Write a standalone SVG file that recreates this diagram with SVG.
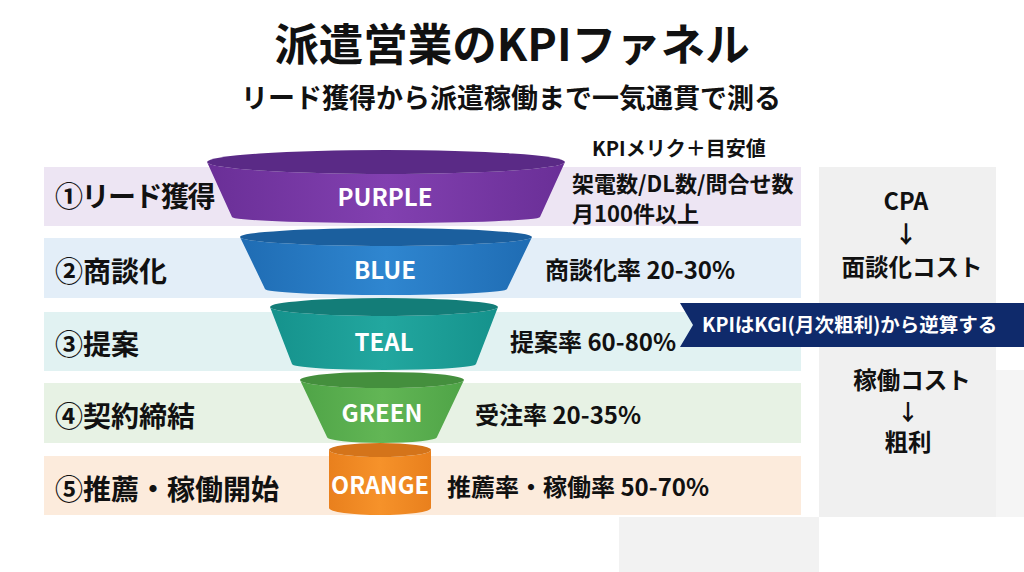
<svg xmlns="http://www.w3.org/2000/svg" width="1024" height="572" viewBox="0 0 1024 572">
<defs>
<style>
text{font-family:"Noto Sans CJK JP","Noto Sans",sans-serif;font-weight:700;}
.lbl{font-size:28px;fill:#111;}
.kpi{font-size:24px;fill:#111;}
.kpi1{font-size:22px;fill:#111;}
.seg{font-size:24px;fill:#fff;text-anchor:middle;}
.side{font-size:23.5px;fill:#111;text-anchor:middle;}
</style>
<linearGradient id="gP" x1="0" x2="1"><stop offset="0" stop-color="#6a2f97"/><stop offset="0.5" stop-color="#8240b0"/><stop offset="1" stop-color="#6a2f97"/></linearGradient>
<linearGradient id="gB" x1="0" x2="1"><stop offset="0" stop-color="#1f6cb3"/><stop offset="0.5" stop-color="#2f86d0"/><stop offset="1" stop-color="#1f6cb3"/></linearGradient>
<linearGradient id="gT" x1="0" x2="1"><stop offset="0" stop-color="#15928c"/><stop offset="0.5" stop-color="#22a79f"/><stop offset="1" stop-color="#15928c"/></linearGradient>
<linearGradient id="gG" x1="0" x2="1"><stop offset="0" stop-color="#4fa447"/><stop offset="0.5" stop-color="#62b655"/><stop offset="1" stop-color="#4fa447"/></linearGradient>
<linearGradient id="gO" x1="0" x2="1"><stop offset="0" stop-color="#e9801d"/><stop offset="0.5" stop-color="#f6922a"/><stop offset="1" stop-color="#e9801d"/></linearGradient>
</defs>
<rect width="1024" height="572" fill="#ffffff"/>
<g id="background">
<rect x="619" y="517" width="200" height="55" fill="#f2f2f2"/>
<rect x="996" y="370" width="28" height="147" fill="#f5f5f5"/>
<rect x="819" y="167" width="177" height="350" fill="#f0f0f0"/>
</g>
<g id="title">
<text x="512" y="61" font-size="44.5" text-anchor="middle" fill="#111">派遣営業のKPIファネル</text>
<text x="511" y="108" font-size="27" text-anchor="middle" fill="#111">リード獲得から派遣稼働まで一気通貫で測る</text>
</g>
<g id="bands">
<rect x="44" y="167" width="757" height="59" fill="#ede5f3"/>
<rect x="44" y="238" width="757" height="60" fill="#e3eef8"/>
<rect x="44" y="312" width="757" height="59" fill="#e1f2f2"/>
<rect x="44" y="383" width="757" height="60" fill="#e7f2e4"/>
<rect x="44" y="456" width="757" height="59" fill="#fcebdc"/>
</g>
<g id="stage1">
<text class="lbl" x="55" y="207" letter-spacing="-1.5">①リード獲得</text>
<path d="M207,162 L232,217 A154,6 0 0 0 540,217 L565,162 A179,12 0 0 1 207,162 Z" fill="url(#gP)"/>
<ellipse cx="386" cy="162" rx="179" ry="12" fill="#5a2a86"/>
<text class="seg" x="385" y="206">PURPLE</text>
<text x="592" y="156" font-size="20" fill="#111">KPIメリク＋目安値</text>
<text class="kpi1" x="572" y="192">架電数/DL数/問合せ数</text>
<text class="kpi1" x="572" y="222">月100件以上</text>
</g>
<g id="stage2">
<text class="lbl" x="55" y="282">②商談化</text>
<path d="M240,237 L265,289 A121,6 0 0 0 507,289 L532,237 A146,9 0 0 1 240,237 Z" fill="url(#gB)"/>
<ellipse cx="386" cy="237" rx="146" ry="9" fill="#1b5f9e"/>
<text class="seg" x="385" y="279">BLUE</text>
<text class="kpi" x="545" y="279">商談化率 20-30%</text>
</g>
<g id="stage3">
<text class="lbl" x="55" y="355">③提案</text>
<path d="M270,307 L292,364 A92,6 0 0 0 476,364 L498,307 A114,9 0 0 1 270,307 Z" fill="url(#gT)"/>
<ellipse cx="384" cy="307" rx="114" ry="9" fill="#137d78"/>
<text class="seg" x="384" y="351">TEAL</text>
<text class="kpi" x="510" y="351">提案率 60-80%</text>
</g>
<g id="stage4">
<text class="lbl" x="55" y="427">④契約締結</text>
<path d="M300,380 L327,437 A55,6 0 0 0 437,437 L464,380 A82,8 0 0 1 300,380 Z" fill="url(#gG)"/>
<ellipse cx="382" cy="380" rx="82" ry="8" fill="#448f3d"/>
<text class="seg" x="382" y="422">GREEN</text>
<text class="kpi" x="475" y="424">受注率 20-35%</text>
</g>
<g id="stage5">
<text class="lbl" x="55" y="500">⑤推薦・稼働開始</text>
<path d="M329,450 L329,508 A51,7 0 0 0 431,508 L431,450 A51,7 0 0 1 329,450 Z" fill="url(#gO)"/>
<ellipse cx="380" cy="450" rx="51" ry="7" fill="#d4741a"/>
<text class="seg" x="380" y="494" style="font-size:23.5px">ORANGE</text>
<text class="kpi" x="447" y="496">推薦率・稼働率 50-70%</text>
</g>
<g id="cost-panel">
<text class="side" x="906" y="210">CPA</text>
<text class="side" x="906" y="243">↓</text>
<text class="side" x="912" y="276">面談化コスト</text>
<text class="side" x="912" y="389">稼働コスト</text>
<text class="side" x="908" y="420" style="font-size:22px">↓</text>
<text class="side" x="908" y="451">粗利</text>
</g>
<g id="banner">
<path d="M680,303 L1024,303 L1024,347 L680,347 L693,325 Z" fill="#0f2a6b"/>
<text x="702" y="332" font-size="19.5" fill="#ffffff">KPIはKGI(月次粗利)から逆算する</text>
</g>
</svg>
